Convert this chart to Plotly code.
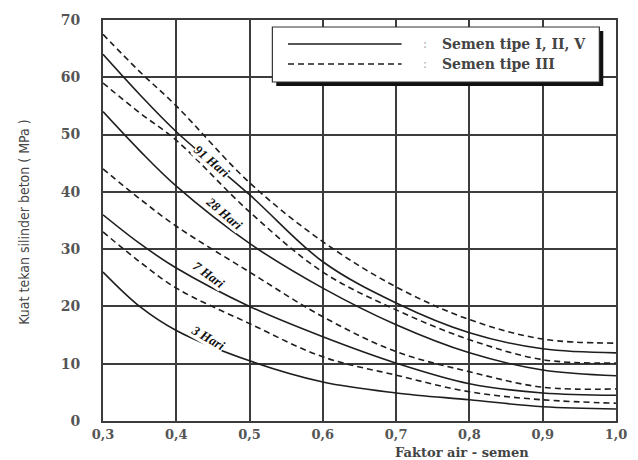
import plotly.graph_objects as go

# water-cement ratio
fas = [0.3, 0.35, 0.4, 0.5, 0.6, 0.7, 0.8, 0.9, 1.0]

# Semen tipe I, II, V (solid)
s91 = [64.0, 57.0, 50.5, 39.5, 27.8, 20.6, 15.4, 12.6, 11.9]
s28 = [54.0, 47.2, 41.0, 31.0, 23.2, 16.8, 11.9, 8.9, 7.9]
s7 = [36.0, 31.0, 26.7, 20.0, 14.7, 10.1, 6.5, 4.9, 4.5]
s3 = [26.0, 20.0, 15.8, 10.5, 6.8, 4.9, 3.7, 2.5, 2.1]

# Semen tipe III (dashed)
d91 = [67.5, 61.0, 55.0, 41.6, 31.3, 23.4, 17.7, 14.3, 13.6]
d28 = [59.0, 53.8, 49.0, 36.5, 26.0, 19.4, 14.2, 10.7, 10.1]
d7 = [44.0, 38.8, 34.0, 26.0, 18.2, 12.1, 8.6, 5.9, 5.6]
d3 = [33.0, 27.8, 23.2, 17.0, 11.2, 8.0, 5.1, 3.7, 3.1]

x_ticks = [0.3, 0.4, 0.5, 0.6, 0.7, 0.8, 0.9, 1.0]
x_labels = ["0,3", "0,4", "0,5", "0,6", "0,7", "0,8", "0,9", "1,0"]
y_ticks = [0, 10, 20, 30, 40, 50, 60, 70]

curve_labels = ["91 Hari", "28 Hari", "7 Hari", "3 Hari"]
label_x = [0.449, 0.466, 0.444, 0.443]
label_y = [45.3, 36.3, 25.5, 14.6]
label_angle = [40, 40, 36, 30]

legend_names = ["Semen tipe I, II, V", "Semen tipe III"]

LINE = "#1e1e1e"
GRID = "#3c3c3c"

fig = go.Figure()
for ys in [s91, s28, s7, s3]:
    fig.add_trace(go.Scatter(x=fas, y=ys, mode="lines", line=dict(color=LINE, width=1.6, shape="spline", smoothing=1.0), showlegend=False, hoverinfo="skip"))
for ys in [d91, d28, d7, d3]:
    fig.add_trace(go.Scatter(x=fas, y=ys, mode="lines", line=dict(color=LINE, width=1.6, dash="6px,4px", shape="spline", smoothing=1.0), showlegend=False, hoverinfo="skip"))

for t, lx, ly, ang in zip(curve_labels, label_x, label_y, label_angle):
    fig.add_annotation(x=lx, y=ly, text=t, showarrow=False, textangle=ang,
                       xanchor="center", yanchor="middle",
                       font=dict(family="Liberation Serif", size=13, color="#111", weight="bold", style="italic"),
                       bgcolor="white", borderpad=0)

# manual legend box (paper coords, from screen px)
def px(xp):
    return (xp - 103) / 524.0

def py(yp):
    return (421 - yp) / 401.0

fig.add_shape(type="rect", xref="paper", yref="paper", x0=px(280), x1=px(614), y0=py(86), y1=py(31),
              fillcolor="#111", line=dict(width=0), layer="above")
fig.add_shape(type="rect", xref="paper", yref="paper", x0=px(276), x1=px(610), y0=py(82), y1=py(27),
              fillcolor="white", line=dict(color="#333", width=1.2), layer="above")
fig.add_shape(type="line", xref="paper", yref="paper", x0=px(292), x1=px(408), y0=py(44), y1=py(44),
              line=dict(color=LINE, width=1.5), layer="above")
fig.add_shape(type="line", xref="paper", yref="paper", x0=px(292), x1=px(408), y0=py(64), y1=py(64),
              line=dict(color=LINE, width=1.5, dash="6px,4px"), layer="above")
for name, yy in zip(legend_names, [44, 64]):
    fig.add_annotation(xref="paper", yref="paper", x=px(432), y=py(yy), text=":", showarrow=False,
                       xanchor="center", yanchor="middle", font=dict(family="DejaVu Serif", size=12, color="#aaa"))
    fig.add_annotation(xref="paper", yref="paper", x=px(447), y=py(yy), text=name, showarrow=False,
                       xanchor="left", yanchor="middle",
                       font=dict(family="DejaVu Serif", size=14, color="#444", weight="bold"))

fig.add_annotation(xref="paper", yref="paper", x=px(470), y=py(452), text="Faktor air - semen", showarrow=False,
                   xanchor="center", yanchor="middle",
                   font=dict(family="DejaVu Serif", size=13, color="#444", weight="bold"))
fig.add_annotation(xref="paper", yref="paper", x=px(22), y=py(222), text="Kuat tekan silinder beton ( MPa )",
                   showarrow=False, textangle=-90, xanchor="center", yanchor="middle",
                   font=dict(family="Liberation Sans Narrow, DejaVu Sans Condensed, Liberation Sans", size=14, color="#444"))

fig.update_xaxes(range=[0.3, 1.0], tickvals=x_ticks, ticktext=x_labels, showgrid=True, gridcolor=GRID, gridwidth=2,
                 showline=True, linecolor=GRID, linewidth=2, mirror=True, zeroline=False,
                 tickfont=dict(family="DejaVu Serif", size=13, color="#555", weight="bold"), ticks="")
fig.update_yaxes(range=[0, 70], tickvals=y_ticks, showgrid=True, gridcolor=GRID, gridwidth=1.6,
                 showline=True, linecolor=GRID, linewidth=2, mirror=True, zeroline=False,
                 tickfont=dict(family="DejaVu Serif", size=14, color="#555", weight="bold"), ticks="",
                 ticklabelstandoff=18)
fig.update_layout(width=638, height=460, margin=dict(l=103, r=11, t=20, b=39),
                  plot_bgcolor="white", paper_bgcolor="white", showlegend=False)
fig.write_html("out.html", config={"displayModeBar": False},
               post_script="document.body.style.margin='0';document.body.style.overflow='hidden';")
